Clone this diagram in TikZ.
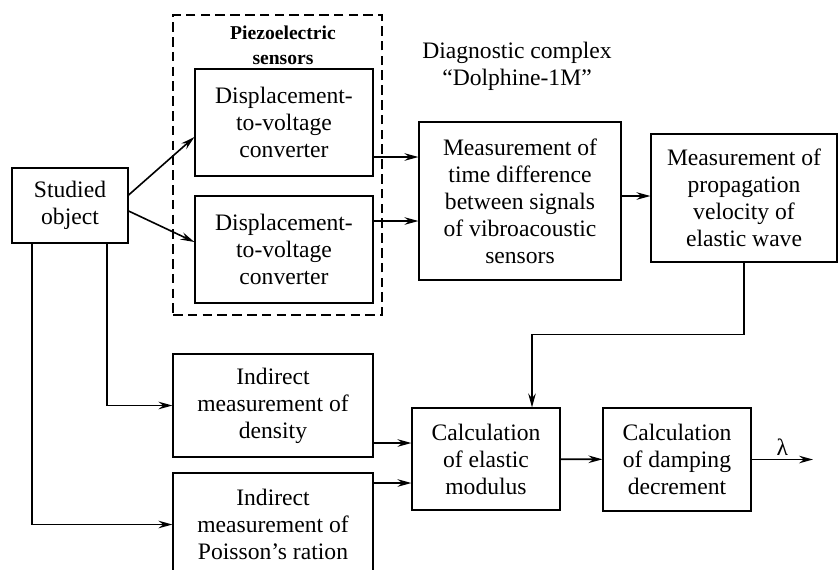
\documentclass[tikz,border=0pt]{standalone}
\usepackage{fontspec}
\setmainfont{Liberation Serif}
\usepackage{tikz}
\usetikzlibrary{positioning,calc,arrows.meta}

\tikzset{
    block/.style={draw, line width=0.6pt, align=center, inner sep=0pt,
        font=\fontsize{11.8}{13.5}\selectfont},
    arr/.style={-{Stealth[length=7pt,width=3.8pt,inset=2.4pt]}, line width=0.8pt},
}

\begin{document}
\begin{tikzpicture}[x=0.5pt,y=-0.5pt]
    \useasboundingbox (0,0) rectangle (838,569);

    % Sensors
    \node[draw, dash pattern=on 4.8pt off 2.6pt, line width=0.6pt,
          minimum width=104.5pt, minimum height=150pt, inner sep=0pt] (sensors) at (277.5,165) {};
    \node[align=center, font=\fontsize{9.8}{12.5}\selectfont\bfseries] (senstitle) at (283,45) {Piezoelectric\\sensors};
    \node[block, minimum width=89pt, minimum height=53.5pt] (dv1) at (284,122.5) {Displacement-\\to-voltage\\converter};
    \node[block, minimum width=89pt, minimum height=53.5pt] (dv2) at (284,249.5) {Displacement-\\to-voltage\\converter};

    % Object
    \node[block, minimum width=58pt, minimum height=37.5pt] (obj) at (70,205.5) {Studied\\object};

    % Diagnostic complex
    \node[align=center, font=\fontsize{11.8}{13.5}\selectfont] (diag) at (517,66) {Diagnostic complex\\“Dolphine-1M”};
    \node[block, minimum width=101pt, minimum height=79pt] (td) at (520,201) {Measurement of\\time difference\\between signals\\of vibroacoustic\\sensors};
    \node[block, minimum width=93pt, minimum height=64pt] (vel) at (744,198) {Measurement of\\propagation\\velocity of\\elastic wave};

    % Lower row
    \node[block, minimum width=100pt, minimum height=51.5pt] (den) at (273,405.5) {Indirect\\measurement of\\density};
    \node[block, minimum width=100pt, minimum height=51.5pt] (poi) at (273,524.5) {Indirect\\measurement of\\Poisson’s ration};
    \node[block, minimum width=74pt, minimum height=51pt] (el) at (486,459) {Calculation\\of elastic\\modulus};
    \node[block, minimum width=74pt, minimum height=51.5pt] (dam) at (677,459.5) {Calculation\\of damping\\decrement};
    \coordinate (out) at (813,459.5);

    % Connections
    \draw[arr] ([yshift=5.25pt]obj.east) -- ([yshift=-7.25pt]dv1.west);
    \draw[arr] ([yshift=-2.75pt]obj.east) -- ([yshift=3.75pt]dv2.west);
    \draw[arr] ([yshift=-17.25pt]dv1.east) -- ([yshift=22pt]td.west);
    \draw[arr] ([yshift=14.25pt]dv2.east) -- ([yshift=-10pt]td.west);
    \draw[arr] ([yshift=2.5pt]td.east) -- ([yshift=1pt]vel.west);
    \draw[arr] (vel.south) -- ++(0,-36pt) -| ([xshift=23pt]el.north);
    \draw[arr] ([xshift=18.5pt]obj.south) |- (den.west);
    \draw[arr] ([xshift=-19pt]obj.south) |- (poi.west);
    \draw[arr] ([yshift=-18.75pt]den.east) -- ([yshift=8pt]el.west);
    \draw[arr] ([yshift=20.75pt]poi.east) -- ([yshift=-12pt]el.west);
    \draw[arr] (el) -- (dam);
    \draw[arr] (dam.east) -- (out) node[midway, above, inner sep=1.5pt, font=\fontsize{11.8}{13.5}\selectfont] {λ};
\end{tikzpicture}
\end{document}
